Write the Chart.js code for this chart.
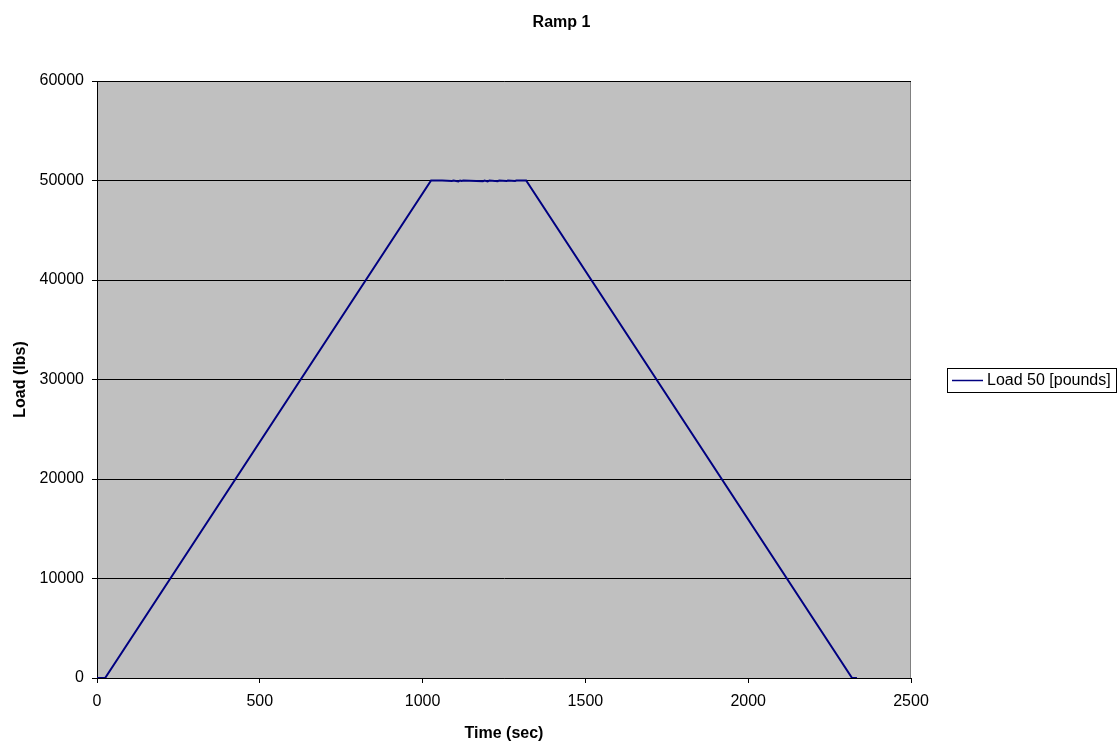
<!DOCTYPE html>
<html>
<head>
<meta charset="utf-8">
<script src="https://cdn.jsdelivr.net/npm/chart.js@4.4.1/dist/chart.umd.min.js"></script>
<style>
  html, body { margin: 0; padding: 0; background: #fff; }
  #wrap { width: 1119px; height: 743px; }
</style>
</head>
<body>
<div id="wrap"><canvas id="c" width="1119" height="743"></canvas></div>
<script>
const chartTitle = 'Ramp 1';
const seriesName = 'Load 50 [pounds]';
const xTitle = 'Time (sec)';
const yTitle = 'Load (lbs)';
const timeSec = [0, 25, 1026, 1060, 1090, 1095, 1110, 1115, 1120, 1125, 1185, 1190, 1200, 1205, 1231, 1235, 1258, 1262, 1284, 1288, 1318, 2319, 2334];
const loadLbs = [0, 0, 50000, 50000, 49950, 50000, 49900, 50000, 49950, 50000, 49920, 50000, 49900, 50000, 49920, 50000, 49940, 50000, 49950, 50000, 50000, 0, 0];
const xTicks = [0, 500, 1000, 1500, 2000, 2500];
const yTicks = [0, 10000, 20000, 30000, 40000, 50000, 60000];

const FONT = "'Liberation Sans', Arial, sans-serif";
const lineColor = '#000080';

const points = timeSec.map((t, i) => ({ x: t, y: loadLbs[i] }));

const plotBg = {
  id: 'plotBg',
  beforeDraw(chart) {
    const { ctx, chartArea: a } = chart;
    ctx.save();
    ctx.fillStyle = '#C0C0C0';
    ctx.fillRect(a.left, a.top, a.right - a.left, a.bottom - a.top);
    ctx.strokeStyle = '#808080';
    ctx.lineWidth = 1;
    ctx.beginPath();
    ctx.moveTo(a.left, a.top + 0.5);
    ctx.lineTo(a.right - 0.5, a.top + 0.5);
    ctx.lineTo(a.right - 0.5, a.bottom);
    ctx.stroke();
    ctx.restore();
  }
};

const titleAndLegend = {
  id: 'titleAndLegend',
  afterDraw(chart) {
    const { ctx, chartArea: a, width } = chart;
    ctx.save();
    // title
    ctx.fillStyle = '#000';
    ctx.font = 'bold 16px ' + FONT;
    ctx.textAlign = 'center';
    ctx.textBaseline = 'alphabetic';
    ctx.fillText(chartTitle, width / 2 + 2, 27);
    // legend
    const cy = (a.top + a.bottom) / 2;
    const x0 = 947.5, w = 169, h = 24;
    const y0 = Math.round(cy - h / 2) + 0.5;
    ctx.fillStyle = '#fff';
    ctx.fillRect(x0, y0, w, h);
    ctx.strokeStyle = '#000';
    ctx.lineWidth = 1;
    ctx.strokeRect(x0, y0, w, h);
    ctx.strokeStyle = lineColor;
    ctx.lineWidth = 1.5;
    ctx.beginPath();
    ctx.moveTo(952, y0 + h / 2);
    ctx.lineTo(983, y0 + h / 2);
    ctx.stroke();
    ctx.fillStyle = '#000';
    ctx.font = '16px ' + FONT;
    ctx.textBaseline = 'middle';
    ctx.textAlign = 'left';
    ctx.fillText(seriesName, 987, y0 + h / 2 + 0.5);
    ctx.restore();
  }
};

new Chart(document.getElementById('c'), {
  type: 'line',
  data: {
    datasets: [{
      label: seriesName,
      data: points,
      borderColor: lineColor,
      backgroundColor: lineColor,
      borderWidth: 2,
      pointRadius: 0,
      tension: 0,
      fill: false
    }]
  },
  options: {
    responsive: false,
    animation: false,
    layout: { padding: { top: 81, left: 0, right: 208, bottom: 0 } },
    plugins: {
      legend: { display: false },
      tooltip: { enabled: false },
      title: { display: false }
    },
    scales: {
      x: {
        type: 'linear',
        min: 0,
        max: 2500,
        afterBuildTicks(scale) { scale.ticks = xTicks.map(v => ({ value: v })); },
        afterFit(scale) { scale.height = 65; },
        ticks: {
          color: '#000',
          font: { family: FONT, size: 16 },
          padding: 9,
          maxRotation: 0,
          autoSkip: false,
          callback: v => String(v)
        },
        grid: {
          drawOnChartArea: false,
          drawTicks: true,
          tickLength: 5,
          color: '#000'
        },
        border: { display: true, color: '#000', width: 1 },
        title: {
          display: true,
          text: xTitle,
          color: '#000',
          font: { family: FONT, size: 16, weight: 'bold' },
          padding: { top: 0, bottom: 0 }
        }
      },
      y: {
        type: 'linear',
        min: 0,
        max: 60000,
        afterBuildTicks(scale) { scale.ticks = yTicks.map(v => ({ value: v })); },
        afterFit(scale) { scale.width = 97; },
        ticks: {
          color: '#000',
          font: { family: FONT, size: 16 },
          padding: 8,
          autoSkip: false,
          callback: v => String(v)
        },
        grid: {
          drawOnChartArea: true,
          drawTicks: true,
          tickLength: 5,
          color: '#000',
          lineWidth: 1
        },
        border: { display: true, color: '#000', width: 1 },
        title: {
          display: true,
          text: yTitle,
          color: '#000',
          font: { family: FONT, size: 16, weight: 'bold' },
          padding: { top: 11, bottom: 0 }
        }
      }
    }
  },
  plugins: [plotBg, titleAndLegend]
});
</script>
</body>
</html>
